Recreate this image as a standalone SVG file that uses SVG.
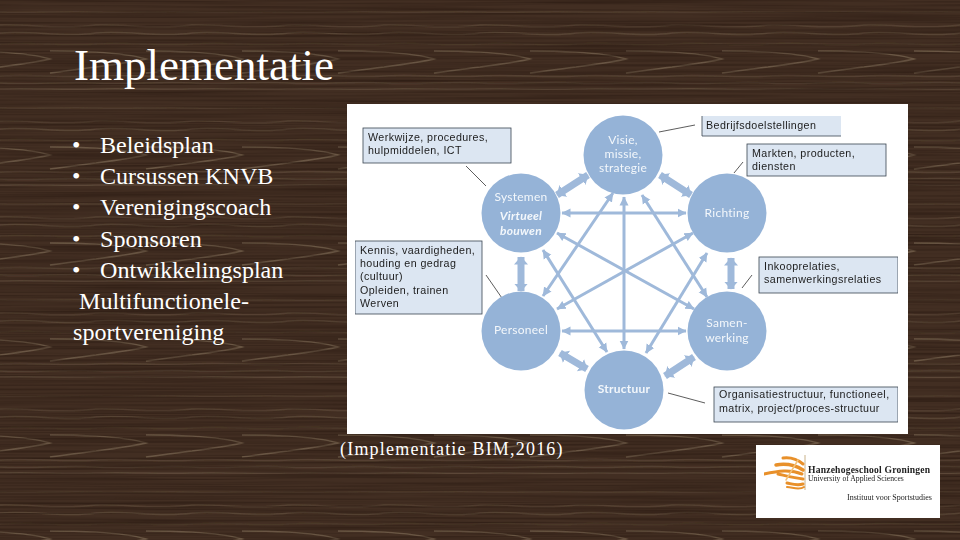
<svg xmlns="http://www.w3.org/2000/svg" width="960" height="540" viewBox="0 0 960 540">
<defs>
<filter id="grain" x="0" y="0" width="100%" height="100%" color-interpolation-filters="sRGB">
<feTurbulence type="fractalNoise" baseFrequency="0.004 0.45" numOctaves="3" seed="12"/>
<feColorMatrix type="matrix" values="0 0 0 0 0.14  0 0 0 0 0.08  0 0 0 0 0.05  1.1 0 0 0 -0.4"/>
</filter>
<filter id="img" x="0" y="0" width="100%" height="100%"><feGaussianBlur stdDeviation="0.35"/></filter>
<filter id="woodblur" x="0" y="0" width="100%" height="100%"><feGaussianBlur stdDeviation="0.45"/></filter>
<path id="sw" d="M-46 51 C-10 51 30 53 50 59 C30 64 -10 68 -46 73" fill="none"/>
<pattern id="woodp" patternUnits="userSpaceOnUse" width="96" height="96">
<rect width="96" height="96" fill="#432f22"/>
<g stroke="#7a6852" stroke-width="1.4" opacity=".7" fill="none">
<use href="#sw"/><use href="#sw" x="96"/>
<path d="M0 76 C32 74 64 78 96 76" opacity=".45"/>
<path d="M0 83 C32 85 64 81 96 83" opacity=".4"/>
<path d="M0 89 C32 88 64 90 96 89" opacity=".6"/>
<path d="M0 12 C32 13 64 11 96 12" opacity=".3"/>
<path d="M0 25 C32 24 60 30 96 25" opacity=".45"/>
<path d="M0 33 C32 30 64 38 96 33" opacity=".55"/>
<path d="M0 44 C32 42 64 46 96 44" opacity=".25"/>
</g>
</pattern>
<marker id="a" markerUnits="userSpaceOnUse" markerWidth="12" markerHeight="12" refX="8.5" refY="6" orient="auto-start-reverse"><path d="M0 1.5 L9 6 L0 10.5 Z" fill="#9fb9da"/></marker>
<marker id="b" markerUnits="userSpaceOnUse" markerWidth="14" markerHeight="16" refX="7.5" refY="8" orient="auto-start-reverse"><path d="M0 1 L8 8 L0 15 Z" fill="#9fb9da"/></marker>
<style>
.t{font-family:"Liberation Serif","Times New Roman",serif;fill:#fff}
.b{font-size:24.1px}
.l{stroke:#9fb9da;stroke-width:3;fill:none;marker-start:url(#a);marker-end:url(#a)}
.h{stroke:#9fb9da;stroke-width:7;fill:none;marker-start:url(#b);marker-end:url(#b)}
.c{fill:#95b3d7}
.n{font-family:Lato,"Noto Sans",sans-serif;font-size:12px;fill:#f3f7fb;text-anchor:middle;letter-spacing:.25px}
.x{font-family:"Liberation Sans",Arial,sans-serif;font-size:10.7px;fill:#1c1c1c;letter-spacing:.42px}
.box{fill:#dce6f2;stroke:#3a4450;stroke-width:.8}
.lead{stroke:#333;stroke-width:.8;fill:none}
.logo{font-family:"Liberation Serif",serif;fill:#222}
</style>
</defs>
<rect width="960" height="540" fill="url(#woodp)" filter="url(#woodblur)"/>
<rect width="960" height="540" filter="url(#grain)"/>

<text id="title" class="t" x="74" y="80" font-size="45">Implementatie</text>
<g id="list" class="t b">
<text x="72" y="153">•</text><text x="100" y="153">Beleidsplan</text>
<text x="72" y="184">•</text><text x="100" y="184">Cursussen KNVB</text>
<text x="72" y="215">•</text><text x="100" y="215">Verenigingscoach</text>
<text x="72" y="247">•</text><text x="100" y="247">Sponsoren</text>
<text x="72" y="278">•</text><text x="100" y="278">Ontwikkelingsplan</text>
<text x="79" y="309">Multifunctionele-</text>
<text x="73" y="340">sportvereniging</text>
</g>

<rect x="347" y="104" width="561" height="330" fill="#fff"/>
<g filter="url(#img)">
<g id="connectors">
<line class="l" x1="562" y1="213" x2="686" y2="213"/>
<line class="l" x1="562" y1="331" x2="686" y2="331"/>
<line class="l" x1="624" y1="197" x2="624" y2="349"/>
<line class="l" x1="613" y1="193" x2="543" y2="296"/>
<line class="l" x1="642" y1="195" x2="707" y2="297"/>
<line class="l" x1="543" y1="250" x2="607" y2="352"/>
<line class="l" x1="707" y1="253" x2="646" y2="353"/>
<line class="l" x1="557" y1="233" x2="694" y2="309"/>
<line class="l" x1="557" y1="309" x2="693" y2="233"/>
<line class="h" x1="557" y1="195" x2="588" y2="175"/>
<line class="h" x1="660" y1="175" x2="691" y2="195"/>
<line class="h" x1="665" y1="376" x2="694" y2="357"/>
<line class="h" x1="560" y1="353" x2="587" y2="369"/>
<line class="h" x1="521" y1="257" x2="521" y2="291"/>
<line class="h" x1="731" y1="258" x2="731" y2="289"/>
<path class="lead" d="M466 166 L486 186M659 132 L695 125M734 173 L743 162M486 275 L504 301M742 288 L752 275M668 393 L705 403"/>
</g>
<g id="visie"><circle class="c" cx="623" cy="155" r="39.5"/><text class="n" x="623" y="144">Visie,</text><text class="n" x="623" y="158">missie,</text><text class="n" x="623" y="172">strategie</text></g>
<g id="systemen"><circle class="c" cx="521" cy="213" r="39.5"/><text class="n" x="521" y="201">Systemen</text><text class="n" x="521" y="220" font-weight="700" font-style="italic">Virtueel</text><text class="n" x="521" y="235" font-weight="700" font-style="italic">bouwen</text></g>
<g id="richting"><circle class="c" cx="727" cy="213" r="39.5"/><text class="n" x="727" y="217">Richting</text></g>
<g id="personeel"><circle class="c" cx="521" cy="331" r="39.5"/><text class="n" x="521" y="334">Personeel</text></g>
<g id="samenwerking"><circle class="c" cx="727" cy="331" r="39.5"/><text class="n" x="727" y="327">Samen-</text><text class="n" x="727" y="342">werking</text></g>
<g id="structuur"><circle class="c" cx="624" cy="390" r="39.5"/><text class="n" x="624" y="393" font-weight="700">Structuur</text></g>

<g id="box-werkwijze"><rect class="box" x="363" y="128" width="148" height="35"/><text class="x" x="368" y="141">Werkwijze, procedures,</text><text class="x" x="368" y="154">hulpmiddelen, ICT</text></g>
<g id="box-bedrijf"><rect x="702" y="116" width="139" height="20" fill="#dce6f2"/><path d="M702 116V136H841" fill="none" stroke="#3a4450" stroke-width=".8"/><text class="x" x="706" y="129">Bedrijfsdoelstellingen</text></g>
<g id="box-markten"><rect class="box" x="747" y="144" width="139" height="32"/><text class="x" x="752" y="157">Markten, producten,</text><text class="x" x="752" y="170">diensten</text></g>
<g id="box-kennis"><rect class="box" x="355" y="241" width="127" height="73"/><text class="x" x="360" y="254">Kennis, vaardigheden,</text><text class="x" x="360" y="267">houding en gedrag</text><text class="x" x="360" y="280" font-size="9.6">(cultuur)</text><text class="x" x="360" y="294">Opleiden, trainen</text><text class="x" x="360" y="307">Werven</text></g>
<g id="box-inkoop"><rect class="box" x="759" y="257" width="139" height="36"/><text class="x" x="764" y="270">Inkooprelaties,</text><text class="x" x="764" y="283">samenwerkingsrelaties</text></g>
<g id="box-organisatie"><rect class="box" x="714" y="387" width="184" height="35"/><text class="x" x="719" y="398">Organisatiestructuur, functioneel,</text><text class="x" x="719" y="412">matrix, project/proces-structuur</text></g>
</g>
<text id="caption" x="340" y="455" font-family="'Liberation Serif',serif" font-size="18" letter-spacing="1.2" fill="#fff">(Implementatie BIM,2016)</text>

<g id="logo">
<rect x="756" y="445" width="184" height="73" fill="#fff"/>
<g filter="url(#img)">
<line x1="805" y1="455" x2="805" y2="490" stroke="#c9b28a" stroke-width="1"/>
<g fill="none" stroke="#e8902a" stroke-linecap="round">
<path d="M803 464 C797 459 791 457 783 458" stroke-width="3"/>
<path d="M803 470 C795 465 787 463 776 465" stroke-width="3.5"/>
<path d="M802 474 C790 469 778 471 764 474" stroke-width="3"/>
<path d="M803 479 C795 478 787 476 778 474" stroke-width="3"/>
<path d="M803 484 C797 486 792 484 787 483" stroke-width="3"/>
<path d="M804 487 C800 490 795 488 787 487" stroke-width="2"/>
<path d="M798 460 L786 480" stroke="#f3c27a" stroke-width="1.5"/>
</g>
<text class="logo" x="808" y="473" font-size="9.6" font-weight="700" letter-spacing=".2">Hanzehogeschool Groningen</text>
<text class="logo" x="808" y="481" font-size="7.7" fill="#333">University of Applied Sciences</text>
<text class="logo" x="847" y="500" font-size="8" fill="#444">Instituut voor Sportstudies</text>
</g>
</g>
</svg>
